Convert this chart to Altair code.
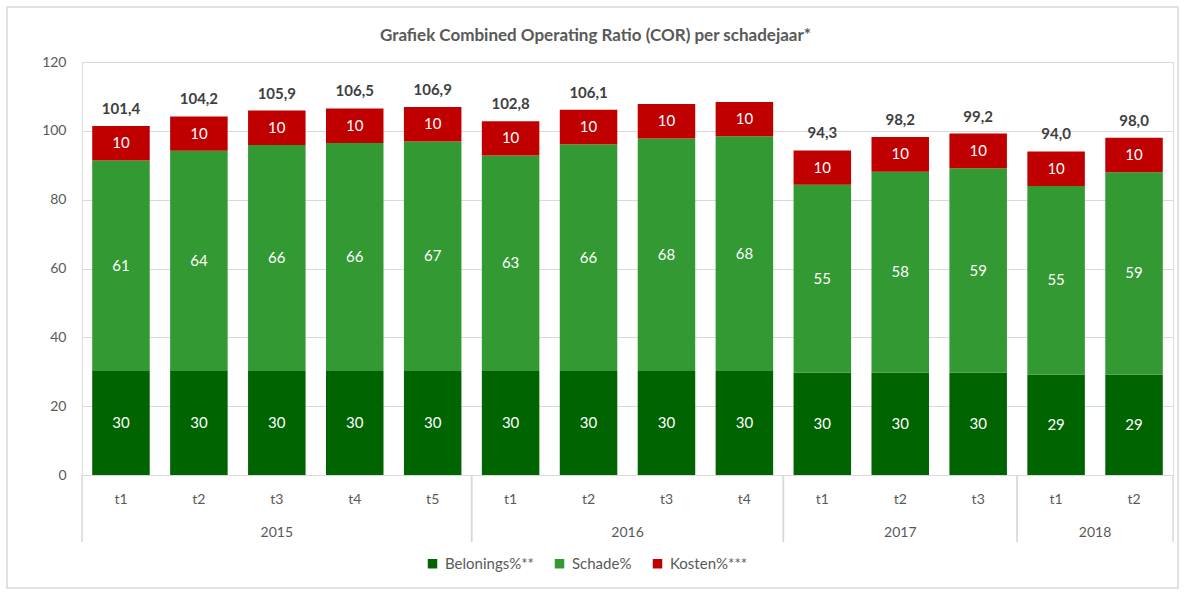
import altair as alt
import pandas as pd

years = ["2015"] * 5 + ["2016"] * 4 + ["2017"] * 3 + ["2018"] * 2
periods = ["t1", "t2", "t3", "t4", "t5", "t1", "t2", "t3", "t4", "t1", "t2", "t3", "t1", "t2"]
belonings = [30.2, 30.2, 30.2, 30.2, 30.2, 30.2, 30.2, 30.2, 30.2, 29.7, 29.7, 29.7, 29.1, 29.1]
schade = [61.2, 64.0, 65.7, 66.3, 66.7, 62.6, 65.9, 67.6, 68.2, 54.6, 58.4, 59.4, 54.9, 58.9]
kosten = [10.0, 10.0, 10.0, 10.0, 10.0, 10.0, 10.0, 10.0, 10.0, 10.0, 10.1, 10.1, 10.0, 10.0]
total_labels = ["101,4", "104,2", "105,9", "106,5", "106,9", "102,8", "106,1", "", "",
                "94,3", "98,2", "99,2", "94,0", "98,0"]

series_names = ["Belonings%**", "Schade%", "Kosten%***"]
series_colors = ["#006400", "#339933", "#C00000"]
series_values = [belonings, schade, kosten]

rows = []
for i in range(len(periods)):
    for order, (name, vals) in enumerate(zip(series_names, series_values)):
        rows.append({"idx": i, "year": years[i], "period": periods[i],
                     "series": name, "order": order, "value": vals[i],
                     "total_label": total_labels[i]})
df = pd.DataFrame(rows)

FONT = "Lato"
GRAY = "#595959"
LINE = "#d9d9d9"
W, H = 1091, 413
HALF = 0.369

xscale = alt.Scale(domain=[-0.5, len(periods) - 0.5], nice=False, zero=False)
yscale = alt.Scale(domain=[0, 120], nice=False)

base = alt.Chart(df)

stacked = base.transform_stack(
    stack="value", groupby=["idx"], as_=["y0", "y1"],
    sort=[alt.SortField("order", order="ascending")]
).transform_calculate(
    xl=f"datum.idx - {HALF}", xr=f"datum.idx + {HALF}",
    ymid="(datum.y0 + datum.y1) / 2"
)

bars = stacked.mark_bar().encode(
    x=alt.X("xl:Q", scale=xscale, axis=None),
    x2="xr:Q",
    y=alt.Y("y0:Q", scale=yscale,
            axis=alt.Axis(values=[0, 20, 40, 60, 80, 100, 120], title=None,
                          domain=False, ticks=False, grid=True, gridColor=LINE,
                          labelColor=GRAY, labelFont=FONT, labelFontSize=14,
                          labelPadding=16)),
    y2="y1:Q",
    color=alt.Color("series:N",
                    scale=alt.Scale(domain=series_names, range=series_colors),
                    legend=alt.Legend(title=None, orient="none", direction="horizontal",
                                      legendX=343, legendY=494, symbolType="square",
                                      symbolSize=90, symbolStrokeWidth=0,
                                      labelFont=FONT, labelFontSize=15,
                                      labelColor=GRAY, columnPadding=18, labelOffset=5)),
    order=alt.Order("order:Q"),
)

seg_labels = stacked.mark_text(color="white", font=FONT, fontSize=15).encode(
    x=alt.X("idx:Q", scale=xscale),
    y=alt.Y("ymid:Q", scale=yscale),
    text=alt.Text("value:Q", format=".0f"),
)

totals = base.transform_aggregate(
    tot="sum(value)", groupby=["idx", "total_label"]
).mark_text(font=FONT, fontSize=15, fontWeight="bold", color="#404040",
            baseline="bottom", dy=-9).encode(
    x=alt.X("idx:Q", scale=xscale),
    y=alt.Y("tot:Q", scale=yscale),
    text="total_label:N",
)

tick_labels = base.transform_filter("datum.order == 0").mark_text(
    font=FONT, fontSize=14, color=GRAY, baseline="middle").encode(
    x=alt.X("idx:Q", scale=xscale),
    y=alt.value(H + 25),
    text="period:N",
)

groups = base.transform_filter("datum.order == 0").transform_aggregate(
    mn="min(idx)", mx="max(idx)", mid="mean(idx)", groupby=["year"]
).transform_calculate(left="datum.mn - 0.5", right="datum.mx + 0.5")

year_labels = groups.mark_text(font=FONT, fontSize=14, color=GRAY, baseline="middle").encode(
    x=alt.X("mid:Q", scale=xscale),
    y=alt.value(H + 58),
    text="year:N",
)

sep_left = groups.mark_rule(color=LINE, strokeWidth=1.5).encode(
    x=alt.X("left:Q", scale=xscale), y=alt.value(H), y2=alt.value(H + 67))
sep_right = groups.mark_rule(color=LINE, strokeWidth=1.5).encode(
    x=alt.X("right:Q", scale=xscale), y=alt.value(H), y2=alt.value(H + 67))

frame = alt.Chart(pd.DataFrame({"k": [0]})).mark_rect(
    fill=None, stroke=LINE, strokeWidth=1.5).encode(
    x=alt.value(-75), x2=alt.value(W + 5), y=alt.value(-55), y2=alt.value(H + 113))

chart = alt.layer(
    frame, bars, seg_labels, totals, tick_labels, year_labels, sep_left, sep_right
).properties(
    width=W, height=H,
    title=alt.TitleParams("Grafiek Combined Operating Ratio (COR) per schadejaar*",
                          anchor="middle", dx=-32, fontSize=17, font=FONT,
                          fontWeight="bold", color=GRAY, baseline="bottom", offset=-56),
    autosize=alt.AutoSizeParams(type="none"),
    padding={"left": 82, "top": 62, "right": 12, "bottom": 117},
).configure_view(stroke=None).configure(background="white")

chart.save("out.html", embed_options={"renderer": "svg", "actions": False})
